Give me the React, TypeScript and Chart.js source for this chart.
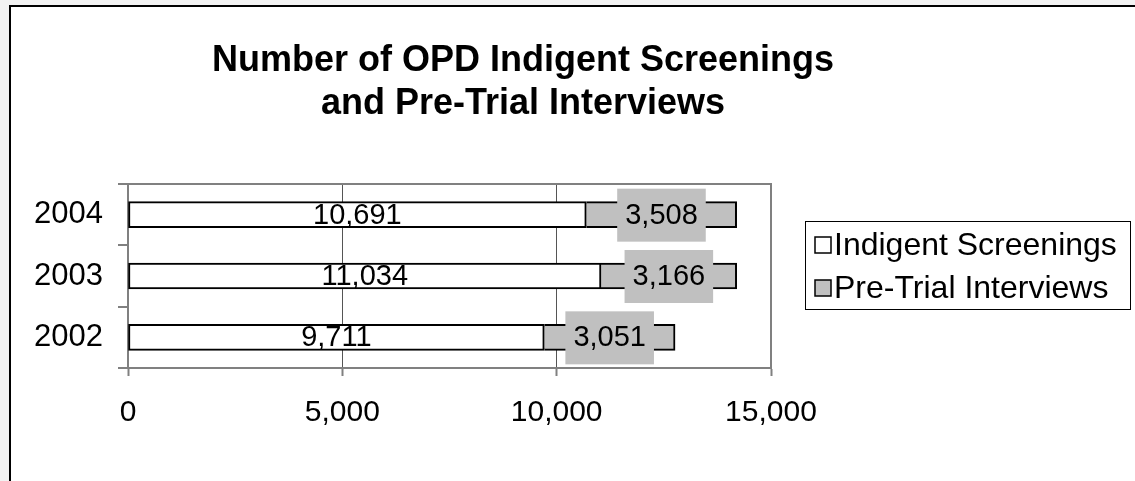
import React, { useEffect, useRef } from "react";
import { Chart, registerables } from "chart.js";

Chart.register(...registerables);

const categories = ["2004", "2003", "2002"];
const indigentScreenings = [10691, 11034, 9711];
const preTrialInterviews = [3508, 3166, 3051];
const seriesNames = ["Indigent Screenings", "Pre-Trial Interviews"];
const titleLines = ["Number of OPD Indigent Screenings", "and Pre-Trial Interviews"];
const xMin = 0;
const xMax = 15000;
const xStep = 5000;

const W = 1135;
const H = 481;
const FONT = "Arial, 'Liberation Sans', sans-serif";
const LABEL_SIZE = 29;
const GRAY = "#c0c0c0";

const fmt = (v: number) => v.toLocaleString("en-US");

const decorPlugin = {
  id: "decor",
  beforeDraw(chart: any) {
    const ctx = chart.ctx;
    ctx.save();
    ctx.fillStyle = "#f2f2f2";
    ctx.fillRect(0, 0, W, H);
    ctx.fillStyle = "#ffffff";
    ctx.fillRect(9, 5, W - 9, H - 5);
    ctx.fillStyle = "#000000";
    ctx.fillRect(9, 5, W - 9, 2);
    ctx.fillRect(9, 5, 2, H - 5);
    // title
    ctx.font = `bold 36px ${FONT}`;
    ctx.textAlign = "center";
    ctx.textBaseline = "middle";
    ctx.fillStyle = "#000";
    ctx.fillText(titleLines[0], 523, 61);
    ctx.fillText(titleLines[1], 523, 104);
    // legend
    ctx.strokeStyle = "#000";
    ctx.lineWidth = 1;
    ctx.strokeRect(805.5, 221.5, 325, 88);
    const items = [
      { name: seriesNames[0], fill: "#fff", y: 245 },
      { name: seriesNames[1], fill: GRAY, y: 288 },
    ];
    ctx.font = `32px ${FONT}`;
    ctx.textAlign = "left";
    for (const it of items) {
      ctx.fillStyle = it.fill;
      ctx.fillRect(815, it.y - 8, 16, 16);
      ctx.lineWidth = 1.5;
      ctx.strokeStyle = "#000";
      ctx.strokeRect(815, it.y - 8, 16, 16);
      ctx.fillStyle = "#000";
      ctx.fillText(it.name, 834, it.y + 1);
    }
    ctx.restore();
  },
  beforeDatasetsDraw(chart: any) {
    const { ctx, chartArea } = chart;
    ctx.save();
    ctx.strokeStyle = "#808080";
    ctx.lineWidth = 2;
    ctx.strokeRect(chartArea.left, chartArea.top, chartArea.right - chartArea.left, chartArea.bottom - chartArea.top);
    ctx.restore();
  },
  afterDatasetsDraw(chart: any) {
    const ctx = chart.ctx;
    ctx.save();
    ctx.font = `${LABEL_SIZE}px ${FONT}`;
    ctx.textAlign = "center";
    ctx.textBaseline = "middle";
    chart.data.datasets.forEach((ds: any, di: number) => {
      const meta = chart.getDatasetMeta(di);
      meta.data.forEach((el: any, i: number) => {
        const v = ds.data[i] as number;
        const cx = (el.x + el.base) / 2;
        const cy = el.y;
        const text = fmt(v);
        if (di === 1) {
          const tw = ctx.measureText(text).width;
          ctx.fillStyle = GRAY;
          ctx.fillRect(cx - tw / 2 - 8, cy - 26, tw + 16, 53);
        }
        ctx.fillStyle = "#000";
        ctx.fillText(text, cx, cy + 1);
      });
    });
    ctx.restore();
  },
};

export default function App() {
  const ref = useRef<HTMLCanvasElement>(null);
  useEffect(() => {
    if (!ref.current) return;
    const chart = new Chart(ref.current, {
      type: "bar",
      data: {
        labels: categories,
        datasets: [
          {
            label: seriesNames[0],
            data: indigentScreenings,
            backgroundColor: "#ffffff",
            borderColor: "#000000",
            borderWidth: 2,
            borderSkipped: false,
            barThickness: 26,
          },
          {
            label: seriesNames[1],
            data: preTrialInterviews,
            backgroundColor: GRAY,
            borderColor: "#000000",
            borderWidth: 2,
            borderSkipped: "start",
            barThickness: 26,
          },
        ],
      },
      options: {
        indexAxis: "y",
        responsive: false,
        animation: false,
        devicePixelRatio: 1,
        layout: { padding: { left: 0, top: 184, right: W - 771, bottom: 53 } },
        plugins: { legend: { display: false }, title: { display: false }, tooltip: { enabled: false } },
        scales: {
          x: {
            stacked: true,
            min: xMin,
            max: xMax,
            afterFit: (s: any) => { s.height = 60; },
            ticks: {
              stepSize: xStep,
              color: "#000",
              font: { family: FONT, size: 30 },
              padding: 19,
              maxRotation: 0,
              callback: (v: any) => fmt(Number(v)),
            },
            grid: { color: "#555", lineWidth: 1, tickLength: 8, tickColor: "#808080", tickWidth: 2 },
            border: { color: "#808080", width: 2 },
          },
          y: {
            stacked: true,
            afterFit: (s: any) => { s.width = 128; },
            ticks: { color: "#000", font: { family: FONT, size: 31 }, padding: 15 },
            grid: { drawOnChartArea: false, tickLength: 10, color: "#808080", lineWidth: 2, offset: true },
            border: { color: "#808080", width: 2 },
          },
        },
      },
      plugins: [decorPlugin],
    });
    return () => chart.destroy();
  }, []);
  return (
    <div style={{ position: "fixed", left: 0, top: 0, width: W, height: H }}>
      <canvas ref={ref} width={W} height={H} style={{ display: "block", width: W, height: H }} />
    </div>
  );
}
